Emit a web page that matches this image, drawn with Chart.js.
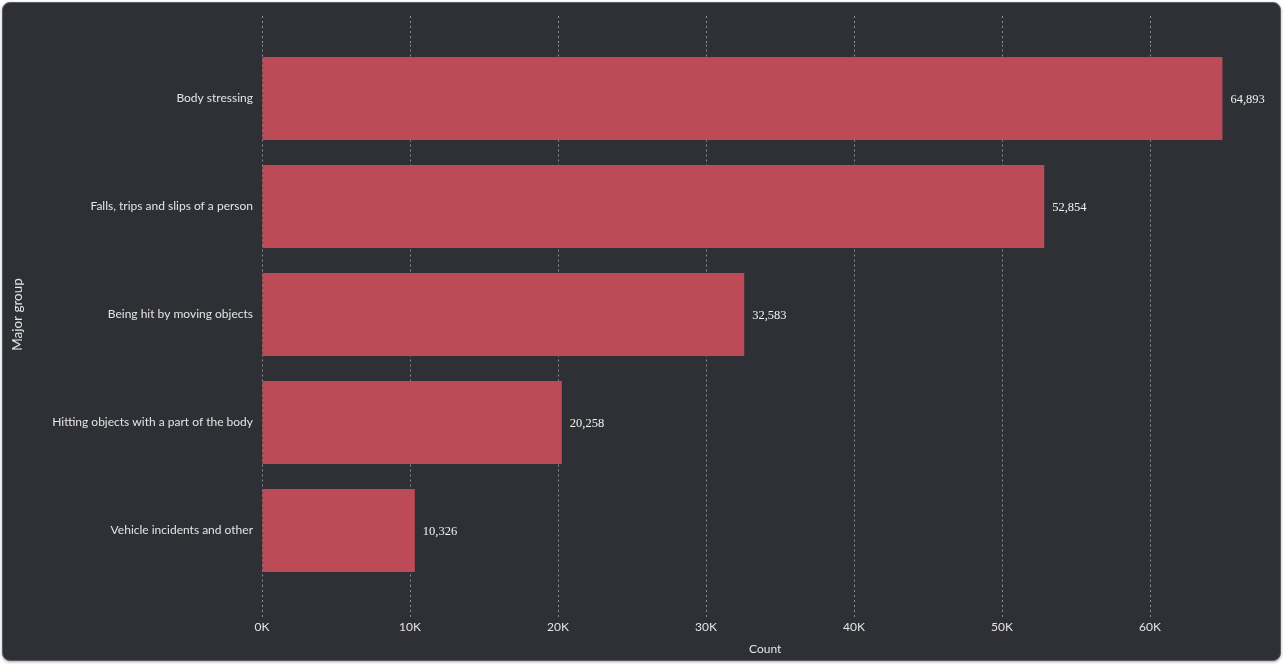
<!DOCTYPE html>
<html>
<head>
<meta charset="utf-8">
<script src="https://cdn.jsdelivr.net/npm/chart.js@4.4.1/dist/chart.umd.min.js"></script>
<style>
  html, body { margin: 0; padding: 0; background: #ffffff; }
  #card {
    position: absolute; left: 2px; top: 2px;
    width: 1277px; height: 657px;
    border: 1px solid #5c5d62; border-radius: 8px;
    background: #2f3035;
    box-shadow: 0 1px 3px rgba(0,0,0,0.35);
    overflow: hidden;
  }
  canvas { display: block; }
</style>
</head>
<body>
<div id="card"><canvas id="chart" width="1277" height="657"></canvas></div>
<script>
const categories = [
  'Body stressing',
  'Falls, trips and slips of a person',
  'Being hit by moving objects',
  'Hitting objects with a part of the body',
  'Vehicle incidents and other'
];
const counts = [64893, 52854, 32583, 20258, 10326];
const tickValues = [0, 10000, 20000, 30000, 40000, 50000, 60000];
const tickLabels = ['0K', '10K', '20K', '30K', '40K', '50K', '60K'];

const textColor = '#e4e4e4';
const gridColor = '#8b8c90';
const sansFont = 'Lato, "Open Sans", sans-serif';

// value labels at the end of each bar
const valueLabels = {
  id: 'valueLabels',
  afterDatasetsDraw(chart) {
    const ctx = chart.ctx;
    const meta = chart.getDatasetMeta(0);
    ctx.save();
    ctx.fillStyle = '#f2f2f2';
    ctx.font = '12.5px "Liberation Serif", serif';
    ctx.textAlign = 'left';
    ctx.textBaseline = 'middle';
    meta.data.forEach((bar, i) => {
      ctx.fillText(counts[i].toLocaleString('en-US'), bar.x + 8, bar.y + 1);
    });
    ctx.restore();
  }
};

const setTicks = (scale) => {
  scale.ticks = tickValues.map(v => ({ value: v }));
};

new Chart(document.getElementById('chart').getContext('2d'), {
  type: 'bar',
  data: {
    labels: categories,
    datasets: [{
      data: counts,
      backgroundColor: '#bd4b57',
      borderWidth: 0,
      categoryPercentage: 1,
      barPercentage: 0.77
    }]
  },
  options: {
    indexAxis: 'y',
    responsive: false,
    animation: false,
    layout: { padding: { left: 0, right: 11.6, top: 0, bottom: 0 } },
    plugins: { legend: { display: false }, tooltip: { enabled: false } },
    scales: {
      x: {
        position: 'bottom',
        min: 0,
        max: 68000,
        afterBuildTicks: setTicks,
        afterFit: (s) => { s.height = 75.5; },
        border: { display: false, dash: [2, 3] },
        grid: {
          color: gridColor,
          lineWidth: 1,
          tickColor: gridColor,
          tickBorderDash: [2, 3],
          tickLength: 32.5
        },
        ticks: {
          color: textColor,
          padding: 3,
          font: { family: sansFont, size: 12 },
          maxRotation: 0,
          callback: (v, i) => tickLabels[i]
        },
        title: {
          display: true,
          text: 'Count',
          color: textColor,
          font: { family: sansFont, size: 12 },
          padding: { top: 0, bottom: 4 }
        }
      },
      xTop: {
        position: 'top',
        axis: 'x',
        min: 0,
        max: 68000,
        afterBuildTicks: setTicks,
        afterFit: (s) => { s.height = 41.5; },
        border: { display: false },
        grid: {
          drawOnChartArea: false,
          tickColor: gridColor,
          tickBorderDash: [2, 3],
          tickLength: 28.5
        },
        ticks: { display: false }
      },
      y: {
        afterFit: (s) => { s.width = 259; },
        border: { display: false },
        grid: { display: false, drawTicks: false },
        ticks: {
          color: textColor,
          padding: 9,
          font: { family: sansFont, size: 12 }
        },
        title: {
          display: true,
          text: 'Major group',
          color: textColor,
          font: { family: sansFont, size: 13.5 },
          padding: { top: 7, bottom: 0 }
        }
      }
    }
  },
  plugins: [valueLabels]
});
</script>
</body>
</html>
